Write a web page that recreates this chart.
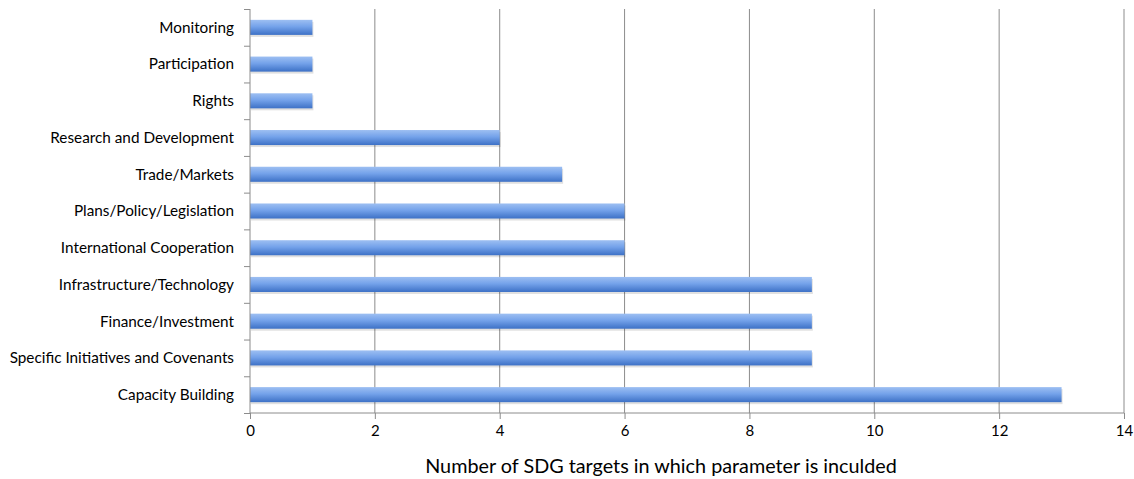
<!DOCTYPE html>
<html>
<head>
<meta charset="utf-8">
<script src="https://cdn.jsdelivr.net/npm/d3@7"></script>
<style>
  body { margin: 0; background: #fff; }
  svg { font-family: Lato, "Open Sans", sans-serif; }
</style>
</head>
<body>
<div id="chart"></div>
<script>
const categories = [
  "Monitoring",
  "Participation",
  "Rights",
  "Research and Development",
  "Trade/Markets",
  "Plans/Policy/Legislation",
  "International Cooperation",
  "Infrastructure/Technology",
  "Finance/Investment",
  "Specific Initiatives and Covenants",
  "Capacity Building",
];
const values = [1, 1, 1, 4, 5, 6, 6, 9, 9, 9, 13];
const xTicks = [0, 2, 4, 6, 8, 10, 12, 14];
const xTitle = "Number of SDG targets in which parameter is inculded";

const width = 1134;
const height = 479;
const margin = { top: 9, right: 10, bottom: 66, left: 250 };

const svg = d3
  .select("#chart")
  .append("svg")
  .attr("width", width)
  .attr("height", height);

const defs = svg.append("defs");
const grad = defs
  .append("linearGradient")
  .attr("id", "barGrad")
  .attr("x1", 0)
  .attr("y1", 0)
  .attr("x2", 0)
  .attr("y2", 1);
grad.append("stop").attr("offset", "0%").attr("stop-color", "#9dbff2");
grad.append("stop").attr("offset", "45%").attr("stop-color", "#74a2ea");
grad.append("stop").attr("offset", "100%").attr("stop-color", "#3d71c6");

const x = d3
  .scaleLinear()
  .domain([0, 14])
  .range([margin.left, width - margin.right]);

const y = d3
  .scaleBand()
  .domain(categories)
  .range([margin.top, height - margin.bottom])
  .paddingInner(0.59)
  .paddingOuter(0.295);

// gridlines
svg
  .append("g")
  .selectAll("line")
  .data(xTicks.filter((d) => d > 0))
  .enter()
  .append("line")
  .attr("x1", (d) => x(d))
  .attr("x2", (d) => x(d))
  .attr("y1", margin.top)
  .attr("y2", height - margin.bottom)
  .attr("stroke", "#8c8c8c")
  .attr("stroke-width", 1);

// bar shadows
svg
  .append("g")
  .selectAll("rect")
  .data(values)
  .enter()
  .append("rect")
  .attr("x", x(0) + 1)
  .attr("y", (d, i) => y(categories[i]) + 2)
  .attr("width", (d) => x(d) - x(0))
  .attr("height", y.bandwidth())
  .attr("fill", "#000")
  .attr("opacity", 0.12);

// bars
svg
  .append("g")
  .selectAll("rect")
  .data(values)
  .enter()
  .append("rect")
  .attr("x", x(0))
  .attr("y", (d, i) => y(categories[i]))
  .attr("width", (d) => x(d) - x(0))
  .attr("height", y.bandwidth())
  .attr("fill", "url(#barGrad)");

// y axis
const yAxisScale = d3
  .scaleLinear()
  .domain([0, categories.length])
  .range([margin.top, height - margin.bottom]);

const yAxis = svg.append("g").attr("transform", `translate(${x(0)},0)`);
yAxis
  .append("line")
  .attr("y1", margin.top)
  .attr("y2", height - margin.bottom)
  .attr("stroke", "#8c8c8c");
yAxis
  .selectAll(".tk")
  .data(d3.range(categories.length + 1))
  .enter()
  .append("line")
  .attr("x1", -6)
  .attr("x2", 0)
  .attr("y1", (d) => yAxisScale(d) + 0.5)
  .attr("y2", (d) => yAxisScale(d) + 0.5)
  .attr("stroke", "#8c8c8c");
yAxis
  .selectAll("text")
  .data(categories)
  .enter()
  .append("text")
  .attr("x", -16)
  .attr("y", (d) => y(d) + y.bandwidth() / 2)
  .attr("dy", "0.35em")
  .attr("text-anchor", "end")
  .attr("font-size", 15.3)
  .attr("fill", "#000")
  .text((d) => d);

// x axis
const xAxis = d3
  .axisBottom(x)
  .tickValues(xTicks)
  .tickSize(6)
  .tickPadding(6);
const gx = svg
  .append("g")
  .attr("transform", `translate(0, ${height - margin.bottom})`)
  .call(xAxis);
gx.selectAll("path, line").attr("stroke", "#8c8c8c");
gx.select(".domain").attr("d", `M${x(0)},0H${x(14)}`);
gx.selectAll("text")
  .attr("font-size", 15)
  .attr("font-family", "Lato, sans-serif")
  .attr("fill", "#000");

svg
  .append("text")
  .attr("x", 661)
  .attr("y", 473)
  .attr("text-anchor", "middle")
  .attr("font-size", 19.8)
  .attr("fill", "#000")
  .text(xTitle);
</script>
</body>
</html>
